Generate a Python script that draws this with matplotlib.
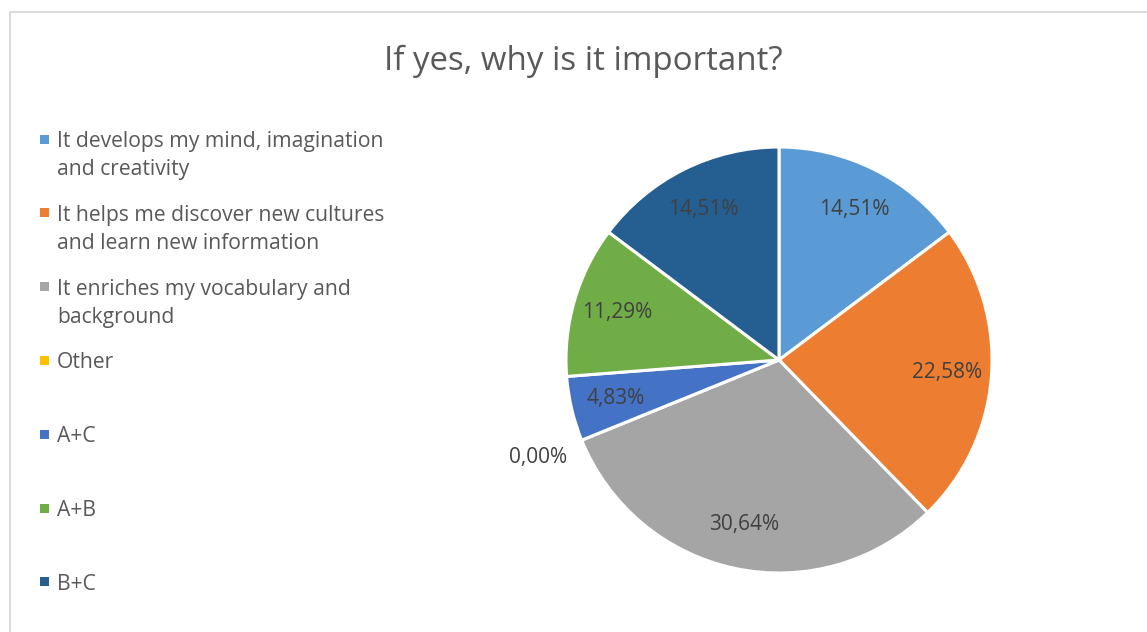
import matplotlib
matplotlib.use("Agg")
import matplotlib.pyplot as plt
from matplotlib.patches import Rectangle
import numpy as np

title = "If yes, why is it important?"
categories = [
    "It develops my mind, imagination\nand creativity",
    "It helps me discover new cultures\nand learn new information",
    "It enriches my vocabulary and\nbackground",
    "Other",
    "A+C",
    "A+B",
    "B+C",
]
values = [14.51, 22.58, 30.64, 0.00, 4.83, 11.29, 14.51]
value_labels = ["14,51%", "22,58%", "30,64%", "0,00%", "4,83%", "11,29%", "14,51%"]
colors = ["#5B9BD5", "#ED7D31", "#A5A5A5", "#FFC000", "#4472C4", "#70AD47", "#255E91"]

FONT = "Open Sans"
W, H = 1147, 632
fig = plt.figure(figsize=(W / 100, H / 100), dpi=100)
fig.patch.set_facecolor("white")

# chart border
fig.add_artist(Rectangle((10 / W, -0.05), 1.2, 1 - 12 / H + 0.05, transform=fig.transFigure,
                         fill=False, edgecolor="#D9D9D9", linewidth=1.3))

fig.text(583 / W, 1 - 70 / H, title, ha="center", va="baseline", fontsize=23.8,
         color="#595959", family=FONT)

# pie
cx, cy, R = 779, 360, 213
ax = fig.add_axes([(cx - R) / W, 1 - (cy + R) / H, 2 * R / W, 2 * R / H])
wedges, _ = ax.pie(values, colors=colors, startangle=90, counterclock=False,
                   wedgeprops=dict(edgecolor="white", linewidth=2.2))
ax.set_xlim(-1, 1)
ax.set_ylim(-1, 1)
ax.set_aspect("equal")
ax.axis("off")

for w, lab, v in zip(wedges, value_labels, values):
    ang = np.deg2rad((w.theta1 + w.theta2) / 2)
    d = 0.79 if v > 0 else 1.22
    ax.text(d * np.cos(ang), d * np.sin(ang), lab, ha="center", va="center",
            fontsize=15, color="#404040", family=FONT, clip_on=False)

# legend
y0, step, line_h = 139, 73.8, 28
for i, (lab, c) in enumerate(zip(categories, colors)):
    y = y0 + i * step
    fig.add_artist(Rectangle((40 / W, 1 - (y + 4.5) / H), 9 / W, 9 / H,
                             transform=fig.transFigure, facecolor=c, edgecolor="none"))
    for k, line in enumerate(lab.split("\n")):
        fig.text(57 / W, 1 - (y + 8 + k * line_h) / H, line, ha="left", va="baseline",
                 fontsize=15.2, color="#595959", family=FONT)

fig.savefig("out.png", dpi=100, facecolor="white")
